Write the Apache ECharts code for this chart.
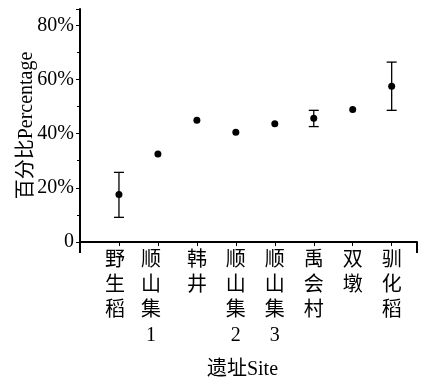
<!DOCTYPE html>
<html>
<head>
<meta charset="utf-8">
<script src="https://cdn.jsdelivr.net/npm/echarts@6/dist/echarts.min.js"></script>
<style>html,body{margin:0;padding:0;background:#fff}#c{width:426px;height:388px}</style>
</head>
<body>
<div id="c"></div>
<script>
const sites = ['野\n生\n稻', '顺\n山\n集\n1', '韩\n井', '顺\n山\n集\n2', '顺\n山\n集\n3', '禹\n会\n村', '双\n墩', '驯\n化\n稻'];
const meanValues = [17.5, 32.5, 44.9, 40.5, 43.6, 45.7, 48.9, 57.5];
const lowerValues = [9.1, null, null, null, null, 42.6, null, 48.6];
const upperValues = [25.7, null, null, null, null, 48.6, null, 66.4];
const yTicks = [0, 20, 40, 60, 80];

const FONT = '"Liberation Serif", "Noto Sans CJK SC", serif';
const chart = echarts.init(document.getElementById('c'), null, {renderer: 'canvas'});

const points = meanValues.map((v, i) => [i + 1, v]);
const bars = [];
lowerValues.forEach((lo, i) => { if (lo != null) bars.push([i + 1, lo, upperValues[i]]); });
const labelStyleKey = ['a', 'b', 'n', 'n', 'n', 'n', 'n', 'n'];

chart.setOption({
  animation: false,
  grid: {left: 80, right: 9, top: 9, bottom: 146, containLabel: false},
  xAxis: [{
    type: 'value', min: 0, max: 8.65, interval: 1,
    name: '遗址Site', nameLocation: 'middle', nameGap: 118, nameMoveOverlap: false,
    nameTextStyle: {fontFamily: FONT, fontSize: 20, color: '#000', padding: [0, 12, 0, 0]},
    axisLine: {show: true, onZero: false, lineStyle: {color: '#000', width: 2}},
    axisTick: {show: true, length: 4, lineStyle: {color: '#000', width: 1}},
    splitLine: {show: false},
    axisLabel: {
      margin: 6, fontFamily: FONT, fontSize: 20, lineHeight: 25, color: '#000',
      verticalAlign: 'top',
      formatter: v => {
        if (!(v >= 1 && v <= sites.length && Number.isInteger(v))) return '';
        const k = labelStyleKey[v - 1];
        return sites[v - 1].split('\n').map(s => '{' + k + '|' + s + '}').join('\n');
      },
      rich: {
        a: {fontFamily: FONT, fontSize: 20, lineHeight: 25, color: '#000', padding: [0, 8, 0, 0]},
        b: {fontFamily: FONT, fontSize: 20, lineHeight: 25, color: '#000', padding: [0, 14, 0, 0]},
        n: {fontFamily: FONT, fontSize: 20, lineHeight: 25, color: '#000'}
      }
    }
  }, {
    type: 'value', min: 0, max: 8.65, interval: 100, position: 'bottom',
    axisLine: {show: false}, axisLabel: {show: false}, splitLine: {show: false},
    axisTick: {show: true, length: 11, lineStyle: {color: '#000', width: 2}}
  }],
  yAxis: {
    type: 'value', min: 0, max: 86, interval: 20,
    name: '百分比Percentage', nameLocation: 'middle', nameGap: 43, nameMoveOverlap: false,
    nameTextStyle: {fontFamily: FONT, fontSize: 20, color: '#000'},
    axisLine: {show: true, lineStyle: {color: '#000', width: 2}},
    axisTick: {show: true, length: 4, lineStyle: {color: '#000', width: 1}},
    minorTick: {show: true, splitNumber: 2, length: 3, lineStyle: {color: '#000', width: 1}},
    splitLine: {show: false},
    axisLabel: {
      margin: 6, fontFamily: FONT, fontSize: 20, color: '#000',
      formatter: v => yTicks.includes(v) ? (v === 0 ? '0' : v + '%') : ''
    }
  },
  series: [{
    type: 'custom',
    xAxisIndex: 0,
    data: bars,
    renderItem: (params, api) => {
      const x = api.value(0);
      const lo = api.coord([x, api.value(1)]);
      const hi = api.coord([x, api.value(2)]);
      const hw = 5;
      const style = {stroke: '#000', lineWidth: 1.3};
      return {type: 'group', children: [
        {type: 'line', shape: {x1: lo[0], y1: lo[1], x2: hi[0], y2: hi[1]}, style},
        {type: 'line', shape: {x1: lo[0] - hw, y1: lo[1], x2: lo[0] + hw, y2: lo[1]}, style},
        {type: 'line', shape: {x1: hi[0] - hw, y1: hi[1], x2: hi[0] + hw, y2: hi[1]}, style}
      ]};
    },
    z: 2
  }, {
    type: 'scatter',
    xAxisIndex: 0,
    data: points,
    symbol: 'circle', symbolSize: 7,
    itemStyle: {color: '#000', opacity: 1},
    z: 3
  }]
});
</script>
</body>
</html>
